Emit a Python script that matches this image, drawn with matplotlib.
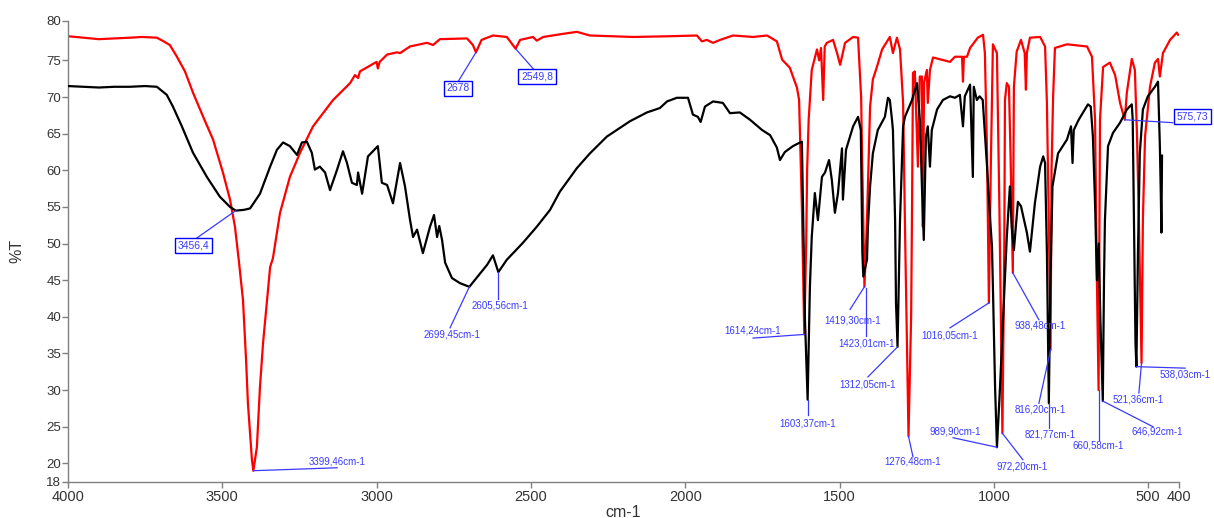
import matplotlib
matplotlib.use("Agg")
import matplotlib.pyplot as plt

plt.rcParams['font.family'] = ['Liberation Sans', 'DejaVu Sans']

# ---- data: red spectrum (wavenumber cm-1, %T) ----
red_wn = [4000, 3950, 3900, 3850, 3800, 3760, 3712, 3690, 3670, 3647, 3621, 3595, 3562, 3530,
          3498, 3475, 3459, 3446, 3433, 3423, 3417, 3404, 3399.46, 3388, 3378, 3368, 3355, 3345,
          3336, 3313, 3281, 3248, 3206, 3141, 3086, 3070, 3060, 3054, 3000, 2996, 2990, 2966,
          2934, 2924, 2892, 2837, 2817, 2795, 2707, 2688, 2678, 2660, 2623, 2578, 2549.8, 2535,
          2493, 2481, 2460, 2400, 2351, 2309, 2169, 2050, 1962, 1946, 1930, 1910, 1887, 1845,
          1780, 1735, 1703, 1686, 1661, 1651, 1638, 1631, 1622, 1614.24, 1608, 1605, 1600, 1590,
          1573, 1566, 1560, 1553, 1548, 1541, 1521, 1508, 1498, 1482, 1456, 1440, 1430, 1427,
          1419.30, 1411, 1401, 1392, 1379, 1362, 1337, 1327, 1314, 1304, 1294, 1287, 1276.48,
          1268, 1265, 1262, 1256, 1246, 1240, 1233, 1230, 1226, 1217, 1214, 1207, 1197, 1142,
          1126, 1103, 1100, 1097, 1087, 1077, 1052, 1035, 1029, 1022, 1016.05, 1010, 1003, 990,
          982, 972.20, 966, 964, 958, 951, 946, 938.48, 935, 926, 912, 900, 896, 893, 883, 850,
          834, 828, 822, 816.20, 813, 808, 802, 763, 698, 682, 672, 666, 660.58, 656, 646, 624,
          607, 591, 575.73, 569, 553, 543, 536, 530, 521.36, 517, 510, 494, 478, 468, 462, 452,
          429, 407, 403]
red_t = [78.3, 78.1, 77.9, 78.0, 78.1, 78.2, 78.1, 77.6, 77.1, 75.5, 73.5, 70.6, 67.3, 64.2,
         59.7, 56.0, 52.3, 47.5, 42.3, 34.1, 28.2, 20.5, 19.0, 22.2, 30.4, 36.4, 42.3, 46.8,
         48.0, 54.2, 59.1, 62.4, 66.0, 69.6, 71.9, 73.0, 72.6, 73.5, 74.8, 73.9, 74.8, 75.8,
         76.1, 76.0, 76.9, 77.4, 77.1, 77.9, 78.0, 77.1, 76.1, 77.8, 78.4, 78.2, 76.6, 77.8,
         78.2, 77.7, 78.2, 78.6, 78.9, 78.4, 78.2, 78.3, 78.4, 77.6, 77.8, 77.4, 77.8, 78.4,
         78.2, 78.4, 77.6, 75.1, 74.0, 72.8, 71.3, 69.6, 55.0, 37.6, 50.0, 60.0, 66.9, 73.7,
         76.5, 75.0, 76.7, 69.6, 76.9, 77.4, 77.8, 76.0, 74.4, 77.4, 78.2, 78.1, 70.0, 62.4,
         44.1, 53.2, 68.7, 72.4, 74.1, 76.5, 78.2, 76.0, 78.1, 76.5, 69.2, 50.0, 23.7,
         40.0, 55.0, 73.3, 73.5, 60.5, 72.8, 72.8, 52.3, 72.0, 73.7, 69.2, 73.7, 75.4, 74.8,
         75.5, 75.5, 72.1, 75.5, 75.5, 76.7, 78.1, 78.5, 76.0, 62.4, 41.9, 60.0, 77.2, 76.0,
         55.0, 24.1, 50.0, 69.6, 71.9, 71.4, 62.4, 46.0, 71.4, 76.2, 77.8, 76.0, 71.0, 76.0, 78.1, 78.2,
         76.9, 69.2, 53.3, 35.5, 60.0, 70.0, 76.7, 77.2, 76.9, 75.5, 66.9, 45.0, 30.0, 66.9, 74.1, 74.7,
         73.0, 69.2, 66.9, 70.6, 75.2, 73.7, 64.6, 53.3, 33.7, 53.3, 64.6, 71.4, 74.7, 75.2, 72.8, 76.0,
         77.8, 78.8, 78.5]

# ---- data: black spectrum ----
blk_wn = [4000, 3950, 3900, 3850, 3800, 3750, 3712, 3680, 3660, 3631, 3595, 3550, 3508, 3475,
          3456.4, 3430, 3410, 3378, 3345, 3323, 3303, 3281, 3258, 3242, 3226, 3210, 3200, 3184,
          3167, 3151, 3128, 3109, 3096, 3080, 3064, 3060, 3047, 3028, 3012, 2996, 2983, 2966,
          2947, 2924, 2908, 2892, 2882, 2869, 2850, 2827, 2814, 2804, 2797, 2788, 2778, 2756,
          2730, 2699.45, 2665, 2642, 2623, 2605.56, 2578, 2526, 2481, 2438, 2406, 2351, 2309,
          2254, 2179, 2124, 2082, 2059, 2027, 1991, 1975, 1959, 1950, 1936, 1910, 1878, 1855,
          1823, 1790, 1751, 1725, 1703, 1693, 1677, 1651, 1628, 1622, 1612, 1603.37, 1596, 1590,
          1580, 1570, 1557, 1547, 1534, 1525, 1515, 1505, 1492, 1489, 1479, 1456, 1440, 1431,
          1426, 1423.01, 1411, 1408, 1401, 1392, 1376, 1353, 1343, 1337, 1330, 1327, 1320, 1317,
          1312.05, 1304, 1294, 1288, 1265, 1249, 1239, 1233, 1227, 1220, 1214, 1207, 1201, 1184,
          1165, 1142, 1126, 1110, 1100, 1094, 1077, 1068, 1065, 1055, 1046, 1036, 1022, 1012,
          1006, 1003, 996, 989.90, 980, 970, 958, 948, 942, 935, 922, 912, 893, 883, 867, 850,
          840, 834, 828, 821.77, 817, 810, 792, 763, 750, 745, 741, 725, 695, 686, 679, 672, 666,
          660, 655, 650, 646.92, 643, 640, 630, 614, 591, 569, 553, 550, 546, 541, 538.03, 533,
          527, 517, 501, 478, 468, 462, 459, 457, 455]
blk_t = [71.5, 71.4, 71.3, 71.4, 71.4, 71.5, 71.4, 70.3, 68.7, 66.0, 62.4, 59.1, 56.4, 55.0,
         54.5, 54.6, 54.8, 56.8, 60.5, 62.8, 63.8, 63.3, 62.1, 63.8, 63.9, 62.4, 60.1, 60.5,
         59.7, 57.3, 60.1, 62.6, 61.0, 58.3, 58.0, 59.7, 56.8, 61.9, 62.6, 63.3, 58.3, 58.0,
         55.5, 61.0, 57.8, 53.3, 50.9, 51.9, 48.7, 52.3, 53.9, 50.9, 52.4, 50.5, 47.4, 45.3,
         44.6, 44.1, 45.9, 47.1, 48.4, 46.1, 47.8, 50.1, 52.3, 54.6, 57.1, 60.3, 62.3,
         64.6, 66.7, 67.9, 68.5, 69.4, 69.9, 69.9, 67.6, 67.3, 66.6, 68.7, 69.4, 69.2, 67.8,
         67.9, 66.9, 65.5, 64.8, 63.1, 61.4, 62.5, 63.3, 63.8, 63.9, 39.6, 28.7, 44.1, 50.9,
         56.9, 53.2, 59.1, 59.7, 61.4, 58.7, 54.2, 56.9, 63.0, 56.0, 62.8, 66.0, 67.3, 65.5,
         48.7, 45.5, 47.8, 52.3, 57.8, 62.3, 65.5, 67.3, 69.9, 69.6, 66.9, 65.5, 53.3, 41.9,
         35.9, 53.2, 66.0, 67.3, 69.6, 71.9, 66.5, 57.8, 50.5, 64.6, 66.0, 60.5, 65.5, 68.3,
         69.6, 70.1, 69.9, 70.3, 66.0, 70.1, 71.7, 59.1, 71.4, 69.6, 70.1, 69.6, 60.5, 53.3,
         49.6, 44.1, 30.4, 22.2, 30.4, 39.6, 50.9, 57.8, 52.3, 49.1, 55.7, 55.1, 51.5, 48.9, 55.5, 60.5,
         61.9, 61.0, 48.7, 28.2, 44.1, 57.8, 62.3, 64.2, 66.0, 61.0, 65.5, 66.9, 69.0, 68.7, 64.6, 55.5, 45.0,
         50.0, 40.0, 33.0, 28.5, 45.0, 53.2, 63.3, 65.1, 66.5, 68.3, 69.0, 66.9, 53.2, 36.4, 33.2, 48.7,
         62.3, 68.3, 70.1, 71.4, 72.1, 63.3, 56.9, 51.5, 62.0]

x_ticks = [4000, 3500, 3000, 2500, 2000, 1500, 1000, 500, 400]
y_tick_labels = ["18", "20", "25", "30", "35", "40", "45", "50", "55", "60", "65", "70", "75", "80"]

# peak labels: text, peak point, leader end, text centre, boxed
peak_labels = [
    ("3456,4", (3456.4, 54.5), (3588, 50.6), (3592, 49.7), True),
    ("3399,46cm-1", (3399.46, 19.0), (3128, 19.4), (3128, 20.3), False),
    ("2678", (2678, 76.1), (2736, 72.1), (2736, 71.2), True),
    ("2549,8", (2549.8, 76.6), (2487, 73.6), (2480, 72.8), True),
    ("2699,45cm-1", (2699.45, 44.1), (2762, 38.5), (2756, 37.6), False),
    ("2605,56cm-1", (2605.56, 46.1), (2605.56, 42.5), (2600, 41.6), False),
    ("1614,24cm-1", (1614.24, 37.6), (1780, 37.1), (1780, 38.2), False),
    ("1603,37cm-1", (1603.37, 28.7), (1603.37, 26.6), (1602, 25.5), False),
    ("1419,30cm-1", (1419.30, 44.1), (1466, 41.0), (1456, 39.5), False),
    ("1423,01cm-1", (1414, 44.0), (1414, 37.4), (1411, 36.3), False),
    ("1312,05cm-1", (1312.05, 35.9), (1408, 31.8), (1408, 30.8), False),
    ("1276,48cm-1", (1276.48, 23.7), (1262, 20.9), (1262, 20.2), False),
    ("1016,05cm-1", (1016.05, 41.9), (1142, 38.5), (1142, 37.5), False),
    ("989,90cm-1", (989.90, 22.2), (1132, 23.5), (1126, 24.4), False),
    ("972,20cm-1", (972.20, 24.1), (906, 20.5), (909, 19.6), False),
    ("938,48cm-1", (938.48, 46.0), (854, 39.6), (850, 38.8), False),
    ("816,20cm-1", (816.20, 35.5), (854, 28.2), (850, 27.3), False),
    ("821,77cm-1", (821.77, 28.2), (821.77, 24.8), (818, 23.9), False),
    ("660,58cm-1", (660.58, 30.0), (660.58, 23.2), (662, 22.5), False),
    ("646,92cm-1", (646.92, 28.5), (484, 25.0), (471, 24.3), False),
    ("521,36cm-1", (521.36, 33.7), (530, 29.6), (533, 28.7), False),
    ("538,03cm-1", (538.03, 33.2), (380, 33.0), (380, 32.1), False),
    ("575,73", (575.73, 66.9), (420, 66.5), (355, 67.3), True),
]

fig = plt.figure(figsize=(12.14, 5.18), dpi=100)
ax = fig.add_axes([68 / 1214, 1 - 481.7 / 518, (1179 - 68) / 1214, (481.7 - 20.7) / 518])

ax.plot(red_wn, red_t, color='#ff0000', lw=1.6, zorder=2)
ax.plot(blk_wn, blk_t, color='#000000', lw=1.6, zorder=3)

ax.set_xlim(4000, 400)
ax.set_ylim(17.5, 80.42)
ax.set_xticks(x_ticks)
ax.set_xticklabels([str(v) for v in x_ticks])
y_pos = [17.5] + list(range(20, 80, 5)) + [80.42]
ax.set_yticks(y_pos)
ax.set_yticklabels(y_tick_labels)

for side in ('top', 'right'):
    ax.spines[side].set_visible(False)
for side in ('left', 'bottom'):
    ax.spines[side].set_color('#808080')
    ax.spines[side].set_linewidth(1.0)
ax.tick_params(axis='both', colors='#808080', length=4, width=1.0, direction='out')
ax.tick_params(axis='x', labelcolor='#333333', labelsize=10.5, pad=2)
ax.tick_params(axis='y', labelcolor='#333333', labelsize=9.5, pad=1)

ax.set_xlabel('cm-1', fontsize=11.5, color='#333333', labelpad=1)
ax.set_ylabel('%T', fontsize=11.5, color='#333333', labelpad=16)

for text, pt, end, tpos, boxed in peak_labels:
    ax.plot([pt[0], end[0]], [pt[1], end[1]], color='#3a3aff', lw=0.9, zorder=4, clip_on=False)
    if boxed:
        ax.text(tpos[0], tpos[1], text, ha='center', va='center', fontsize=7.5, color='#3a3aff',
                zorder=5, clip_on=False,
                bbox=dict(boxstyle='square,pad=0.25', fc='white', ec='#0000ff', lw=1.0))
    else:
        ax.text(tpos[0], tpos[1], text, ha='center', va='center', fontsize=7, color='#3a3aff',
                zorder=5, clip_on=False)

fig.savefig('out.png', dpi=100)
